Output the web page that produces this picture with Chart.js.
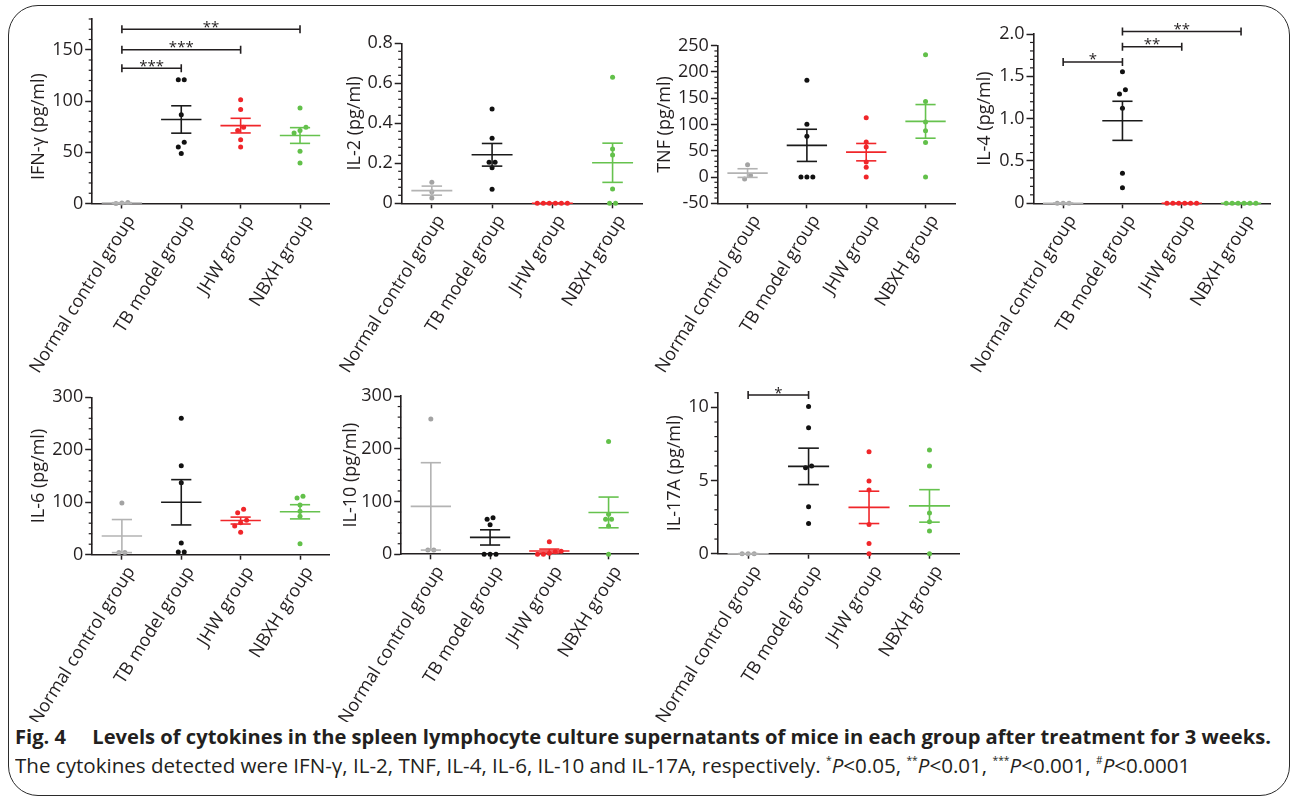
<!DOCTYPE html>
<html>
<head>
<meta charset="utf-8">
<script src="https://cdn.jsdelivr.net/npm/chart.js@4.4.1/dist/chart.umd.min.js"></script>
<style>
  body { margin: 0; width: 1292px; height: 798px; background: #fff; position: relative; overflow: hidden; font-family: 'Open Sans', sans-serif; }
  .frame { position: absolute; left: 8px; top: 5px; width: 1280px; height: 789px; border: 1.6px solid #2b2b2b; border-radius: 30px; }
  canvas { position: absolute; }
  .cap { position: absolute; left: 15px; white-space: nowrap; color: #231f20; font-size: 20px; line-height: 20px; transform-origin: 0 0; }
  .cap sup { font-size: 10px; vertical-align: 9px; line-height: 0; }
</style>
</head>
<body>
<div class="frame"></div>
<div class="cap" id="cap1" data-w="1256" style="top:727px;font-weight:700">Fig. 4<span style="display:inline-block;width:26px"></span>Levels of cytokines in the spleen lymphocyte culture supernatants of mice in each group after treatment for 3 weeks.</div>
<div class="cap" id="cap2" data-w="1175" style="top:756px">The cytokines detected were IFN-γ, IL-2, TNF, IL-4, IL-6, IL-10 and IL-17A, respectively. <sup>*</sup><i>P</i>&lt;0.05, <sup>**</sup><i>P</i>&lt;0.01, <sup>***</sup><i>P</i>&lt;0.001, <sup>#</sup><i>P</i>&lt;0.0001</div>

<script>
// groups on the x axis
const groups = ['Normal control group', 'TB model group', 'JHW group', 'NBXH group'];

// IFN-gamma (pg/ml)
const ifnNormal = [1, 0.5, 0];
const ifnTB = [120.8, 120.8, 86.7, 59.7, 55.2, 48.7];
const ifnJHW = [101.3, 91.6, 74.3, 71.1, 62.3, 55.2];
const ifnNBXH = [93.2, 74.3, 71.1, 68.9, 50.9, 39.6];
const ifnTicks = [0, 50, 100, 150];
const ifnTickLabels = ['0', '50', '100', '150'];
const ifnStars = [{ from: 0, to: 1, y: 132, text: '***' }, { from: 0, to: 2, y: 150, text: '***' }, { from: 0, to: 3, y: 170, text: '**' }];

// IL-2
const il2Normal = [0.105, 0.058, 0.027];
const il2TB = [0.472, 0.325, 0.205, 0.205, 0.178, 0.07];
const il2JHW = [0, 0, 0, 0, 0, 0];
const il2NBXH = [0.63, 0.272, 0.242, 0.072, 0, 0];
const il2Ticks = [0, 0.2, 0.4, 0.6, 0.8];
const il2TickLabels = ['0', '0.2', '0.4', '0.6', '0.8'];

// TNF
const tnfNormal = [23.6, 2.7, -3.7];
const tnfTB = [184, 100.4, 77.6, 0, 0, 0];
const tnfJHW = [113, 66.7, 57.2, 28.7, 18.5, 0];
const tnfNBXH = [233, 144, 104.8, 88.3, 65.5, 0];
const tnfTicks = [-50, 0, 50, 100, 150, 200, 250];
const tnfTickLabels = ['-50', '0', '50', '100', '150', '200', '250'];

// IL-4
const il4Normal = [0, 0, 0];
const il4TB = [1.555, 1.34, 1.29, 1.122, 0.354, 0.185];
const il4JHW = [0, 0, 0, 0, 0, 0];
const il4NBXH = [0, 0, 0, 0, 0, 0];
const il4Ticks = [0, 0.5, 1, 1.5, 2];
const il4TickLabels = ['0', '0.5', '1.0', '1.5', '2.0'];
const il4Stars = [{ from: 0, to: 1, y: 1.67, text: '*' }, { from: 1, to: 2, y: 1.85, text: '**' }, { from: 1, to: 3, y: 2.03, text: '**' }];

// IL-6
const il6Normal = [98.5, 4, 4];
const il6TB = [260, 169.7, 137.3, 22.2, 5.1, 5.1];
const il6JHW = [86.4, 80.1, 65.5, 61, 54.7, 42.6];
const il6NBXH = [111.2, 108, 94.7, 82.6, 73.1, 21];
const il6Ticks = [0, 100, 200, 300];
const il6TickLabels = ['0', '100', '200', '300'];

// IL-10
const il10Normal = [256.4, 8, 8];
const il10TB = [69.5, 66.3, 56.2, 0, 0, 0];
const il10JHW = [24, 6, 5, 2, 0, 0];
const il10NBXH = [214, 75.8, 66.3, 66.3, 53.7, 0];
const il10Ticks = [0, 100, 200, 300];
const il10TickLabels = ['0', '100', '200', '300'];

// IL-17A
const il17Normal = [0, 0, 0];
const il17TB = [10.05, 8.6, 6.0, 5.88, 3.2, 2.07];
const il17JHW = [6.97, 4.97, 4.35, 2.0, 0.7, 0];
const il17NBXH = [7.08, 5.99, 2.78, 2.19, 1.55, 0];
const il17Ticks = [0, 5, 10];
const il17TickLabels = ['0', '5', '10'];
const il17Stars = [{ from: 0, to: 1, y: 10.84, text: '*' }];

const family = "'Open Sans', sans-serif";
const ink = '#231f20';
const dotColors = ['#a3a3a3', '#111111', '#f0262a', '#62c04a'];
const lineColors = ['#b3b3b3', '#1a1a1a', '#f0262a', '#66c24e'];

const panels = [
  { title: 'IFN-\u03b3 (pg/ml)', values: [ifnNormal, ifnTB, ifnJHW, ifnNBXH], ticks: ifnTicks, labels: ifnTickLabels, min: 0, max: 180, minor: 10, stars: ifnStars,
    axisX: 92, right: 329.5, top: 19, bottom: 203.5, titleX: 39, titleMid: 75, row: 0 },
  { title: 'IL-2 (pg/ml)', values: [il2Normal, il2TB, il2JHW, il2NBXH], ticks: il2Ticks, labels: il2TickLabels, min: 0, max: 0.8, minor: 0.04, stars: [],
    axisX: 401.5, right: 642.5, top: 43.3, bottom: 203.3, titleX: 355, row: 0 },
  { title: 'TNF (pg/ml)', values: [tnfNormal, tnfTB, tnfJHW, tnfNBXH], ticks: tnfTicks, labels: tnfTickLabels, min: -50, max: 250, minor: 10, stars: [],
    axisX: 717.7, right: 955, top: 45.7, bottom: 203.3, titleX: 665, row: 0 },
  { title: 'IL-4 (pg/ml)', values: [il4Normal, il4TB, il4JHW, il4NBXH], ticks: il4Ticks, labels: il4TickLabels, min: 0, max: 2, minor: 0.1, stars: il4Stars,
    axisX: 1033.3, right: 1270.5, top: 34, bottom: 203.3, titleX: 985, row: 0 },
  { title: 'IL-6 (pg/ml)', values: [il6Normal, il6TB, il6JHW, il6NBXH], ticks: il6Ticks, labels: il6TickLabels, min: 0, max: 300, minor: 20, stars: [],
    axisX: 92, right: 329.5, top: 397.3, bottom: 554.7, titleX: 39, row: 1 },
  { title: 'IL-10 (pg/ml)', values: [il10Normal, il10TB, il10JHW, il10NBXH], ticks: il10Ticks, labels: il10TickLabels, min: 0, max: 300, minor: 20, stars: [],
    axisX: 401, right: 638, top: 396, bottom: 554.3, titleX: 351, row: 1 },
  { title: 'IL-17A (pg/ml)', values: [il17Normal, il17TB, il17JHW, il17NBXH], ticks: il17Ticks, labels: il17TickLabels, min: 0, max: 11, minor: 1, stars: il17Stars,
    axisX: 717.7, right: 959.5, top: 392.7, bottom: 553.7, titleX: 675, row: 1 }
];
const rows = [{ top: 0, bottom: 392 }, { top: 380, bottom: 722 }];

Chart.defaults.font.family = family;
Chart.defaults.font.size = 18;
Chart.defaults.color = ink;

// spread points that sit at nearly the same height, like a dot plot
function spread(vals, tol) {
  const idx = vals.map((v, i) => i).sort((a, b) => vals[a] - vals[b]);
  const off = vals.map(() => 0);
  let run = [idx[0]];
  const flush = () => run.forEach((k, j) => { off[k] = (j - (run.length - 1) / 2) * 0.1; });
  for (let j = 1; j < idx.length; j++) {
    if (vals[idx[j]] - vals[idx[j - 1]] <= tol) run.push(idx[j]);
    else { flush(); run = [idx[j]]; }
  }
  flush();
  return off;
}

function seg(x1, y1, x2, y2, color) {
  return { data: [{ x: x1, y: y1 }, { x: x2, y: y2 }], showLine: true, borderColor: color, borderWidth: 1.6,
           pointRadius: 0, clip: false };
}

function buildDatasets(p) {
  const ds = [];
  const tol = 0.03 * (p.max - p.min);
  p.values.forEach((vals, g) => {
    const m = vals.reduce((a, b) => a + b, 0) / vals.length;
    const sd = Math.sqrt(vals.reduce((a, b) => a + (b - m) ** 2, 0) / (vals.length - 1));
    const se = sd / Math.sqrt(vals.length);
    const c = lineColors[g];
    ds.push(seg(g - 0.34, m, g + 0.34, m, c));
    ds.push(seg(g - 0.17, m + se, g + 0.17, m + se, c));
    ds.push(seg(g - 0.17, m - se, g + 0.17, m - se, c));
    ds.push(seg(g, m - se, g, m + se, c));
    const off = spread(vals, tol);
    ds.push({ data: vals.map((v, i) => ({ x: g + off[i], y: v })), pointRadius: 2.5, pointBackgroundColor: dotColors[g],
              pointBorderWidth: 0, showLine: false, clip: false });
  });
  return ds;
}

// y title, minor y ticks and significance brackets
const extras = {
  id: 'extras',
  afterDraw(chart, args, opts) {
    const { ctx } = chart;
    const xs = chart.scales.x, ys = chart.scales.y;
    ctx.save();
    ctx.strokeStyle = ink;
    ctx.fillStyle = ink;

    const midY = opts.titleMid !== undefined ? ys.getPixelForValue(opts.titleMid) : (ys.top + ys.bottom) / 2;
    ctx.save();
    ctx.translate(opts.titleX, midY);
    ctx.rotate(-Math.PI / 2);
    ctx.font = '18px ' + family;
    ctx.textAlign = 'center';
    ctx.textBaseline = 'middle';
    ctx.fillText(opts.title, 0, 0);
    ctx.restore();

    ctx.lineWidth = 1.2;
    const n = Math.round((opts.max - opts.min) / opts.minor);
    for (let k = 0; k <= n; k++) {
      const v = opts.min + k * opts.minor;
      if (opts.ticks.some(t => Math.abs(t - v) < opts.minor / 100)) continue;
      const py = ys.getPixelForValue(v);
      ctx.beginPath();
      ctx.moveTo(xs.left - 3.5, py);
      ctx.lineTo(xs.left, py);
      ctx.stroke();
    }
    ctx.lineWidth = 1.6;
    ctx.font = '15px ' + family;
    ctx.textAlign = 'center';
    ctx.textBaseline = 'alphabetic';
    opts.stars.forEach(s => {
      const py = ys.getPixelForValue(s.y);
      const xa = xs.getPixelForValue(s.from), xb = xs.getPixelForValue(s.to);
      ctx.beginPath();
      ctx.moveTo(xa, py - 4); ctx.lineTo(xa, py + 4);
      ctx.moveTo(xa, py); ctx.lineTo(xb, py);
      ctx.moveTo(xb, py - 4); ctx.lineTo(xb, py + 4);
      ctx.stroke();
      ctx.fillText(s.text, (xa + xb) / 2, py + 2.5);
    });
    ctx.restore();
  }
};

panels.forEach(p => {
  const padL = 20;
  const row = rows[p.row];
  const cLeft = p.titleX - 10.2 - padL;
  const cTop = row.top;
  const cW = p.right + 12 - cLeft;
  const cH = row.bottom - row.top;
  const canvas = document.createElement('canvas');
  canvas.width = Math.round(cW);
  canvas.height = cH;
  canvas.style.left = cLeft + 'px';
  canvas.style.top = cTop + 'px';
  document.body.appendChild(canvas);

  new Chart(canvas, {
    type: 'scatter',
    data: { datasets: buildDatasets(p) },
    plugins: [extras],
    options: {
      animation: false,
      responsive: false,
      devicePixelRatio: 1,
      layout: { autoPadding: false, padding: { left: padL, top: p.top - cTop, right: canvas.width - (p.right - cLeft), bottom: 0 } },
      plugins: {
        legend: { display: false },
        tooltip: { enabled: false },
        extras: { min: p.min, max: p.max, minor: p.minor, ticks: p.ticks, stars: p.stars,
                  title: p.title, titleX: p.titleX - cLeft, titleMid: p.titleMid }
      },
      scales: {
        x: {
          type: 'linear', min: -0.5, max: 3.5,
          afterBuildTicks: s => { s.ticks = [0, 1, 2, 3].map(v => ({ value: v })); },
          afterFit: s => { s.height = cH - (p.bottom - cTop); s.paddingLeft = 0; s.paddingRight = 0; },
          ticks: { autoSkip: false, minRotation: 58, maxRotation: 58, padding: 3, labelOffset: 9, callback: (v, i) => groups[i] },
          grid: { drawOnChartArea: false, tickLength: 5, tickColor: ink, tickWidth: 1.5 },
          border: { color: ink, width: 1.6 }
        },
        y: {
          type: 'linear', min: p.min, max: p.max,
          afterBuildTicks: s => { s.ticks = p.ticks.map(v => ({ value: v })); },
          afterFit: s => { s.width = p.axisX - cLeft - padL; s.paddingTop = 0; s.paddingBottom = 0; },
          ticks: { padding: 2, callback: (v, i) => p.labels[i] },
          grid: { drawOnChartArea: false, tickLength: 7, tickColor: ink, tickWidth: 1.5 },
          border: { color: ink, width: 1.6 }
        }
      }
    }
  });
});

function fitCaptions() {
  document.querySelectorAll('.cap').forEach(el => {
    el.style.transform = 'none';
    const w = el.scrollWidth;
    el.style.transform = 'scaleX(' + (el.dataset.w / w) + ')';
  });
}
fitCaptions();
if (document.fonts) document.fonts.ready.then(fitCaptions);
</script>
</body>
</html>
